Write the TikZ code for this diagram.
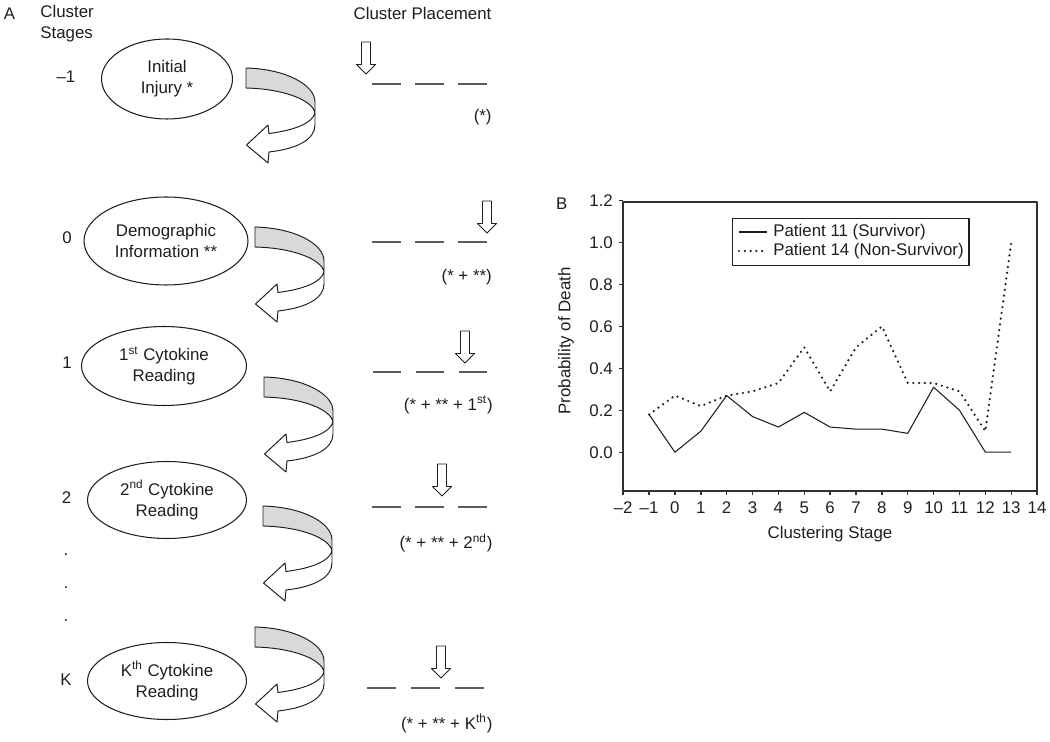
\documentclass[tikz,border=0pt]{standalone}
\usepackage{fontspec}
\setmainfont{Liberation Sans}
\usepackage{tikz}
\usetikzlibrary{shapes.geometric}

\definecolor{bandgray}{HTML}{D9D9D9}
\definecolor{slotgray}{HTML}{5C5C5C}
\definecolor{framegray}{HTML}{303030}
\definecolor{inkgray}{HTML}{1E1E1E}

\tikzset{
  stagebox/.style={draw=inkgray, ellipse, inner sep=0pt, align=center, line width=0.6pt},
  wrapband/.style={fill=bandgray, draw=inkgray, line width=0.55pt},
  wrapfront/.style={fill=white, draw=inkgray, line width=0.55pt},
  dropbox/.style={fill=white, draw=inkgray, line width=0.55pt},
  slotline/.style={draw=slotgray, line width=1.1pt},
  tickno/.style={inner sep=0pt},
  survline/.style={draw=inkgray, line width=0.6pt},
  nonsurvline/.style={draw=inkgray, line width=1.4pt, dash pattern=on 0pt off 3.3pt, line cap=round},
}

\begin{document}
\begin{tikzpicture}[x=0.02cm, y=-0.02cm, font=\fontsize{9.6}{11.8}\selectfont, line join=round, text=inkgray]
  \useasboundingbox (0,0) rectangle (1050,742);

  % panel A: headings
  \node (panA) at (9.5,14) {A};
  \node[anchor=west, align=left, inner sep=0pt] (stagehead) at (40,23.5) {Cluster\\Stages};
  \node (placehead) at (422.5,13) {Cluster Placement};

  % cluster stages
  \node[stagebox, minimum width=2.62cm, minimum height=1.6cm] (injury) at (167,79) {Initial\\Injury *};
  \node[stagebox, minimum width=3.28cm, minimum height=1.76cm] (demog) at (166,241) {Demographic\\Information **};
  \node[stagebox, minimum width=3.3cm, minimum height=1.58cm] (cyto1) at (164,366) {1\textsuperscript{st} Cytokine\\Reading};
  \node[stagebox, minimum width=3.18cm, minimum height=1.54cm] (cyto2) at (167,500) {2\textsuperscript{nd} Cytokine\\Reading};
  \node[stagebox, minimum width=3.18cm, minimum height=1.54cm] (cytoK) at (167,681) {K\textsuperscript{th} Cytokine\\Reading};

  \node (lvlm) at (66,77) {\textendash1};
  \node (lvl0) at (67,238) {0};
  \node (lvl1) at (67,363) {1};
  \node (lvl2) at (66.5,498) {2};
  \node (lvlK) at (66,680) {K};
  \node[inner sep=0pt] (dotA) at (66,555) {.};
  \node[inner sep=0pt] (dotB) at (66,588) {.};
  \node[inner sep=0pt] (dotC) at (66,621) {.};

  % wrap-around arrows
  \foreach \ax/\ay in {246/68, 255/227, 264/377, 263/506, 255/627}{
    \begin{scope}[shift={(\ax,\ay)}]
      \filldraw[wrapband] (0,0) .. controls (40,1) and (69,17) .. (69,34) -- (69,45)
        .. controls (67,33) and (40,21) .. (0,20) -- cycle;
      \filldraw[wrapfront] (69,45) .. controls (66,55) and (50,62) .. (23,65.5) -- (22,57)
        -- (0.5,77) -- (22,95) -- (23,84) .. controls (50,81) and (69,72) .. (69,57) -- cycle;
    \end{scope}
  }

  % cluster placement
  \foreach \bx/\by in {366/42, 487/201, 465/331, 442/464, 441/646}{
    \begin{scope}[shift={(\bx,\by)}]
      \filldraw[dropbox] (-4.5,0) -- (4.5,0) -- (4.5,22.5) -- (9.5,22.5) -- (0,32)
        -- (-9.5,22.5) -- (-4.5,22.5) -- cycle;
    \end{scope}
  }
  \foreach \sx/\sy/\sd in {372/84/43, 372/241.7/43, 372.5/371.7/43, 372/506.7/43, 367/688.3/44}
    \foreach \k in {0,1,2}
      \draw[slotline] (\sx+\sd*\k,\sy) -- ++(28.5,0);

  \node (summ) at (482.7,117) {(*)};
  \node (sum0) at (466.7,276.7) {(* + **)};
  \node (sum1) at (448.3,405) {(* + ** + 1\textsuperscript{st})};
  \node (sum2) at (446,542.7) {(* + ** + 2\textsuperscript{nd})};
  \node (sumK) at (446.7,723.3) {(* + ** + K\textsuperscript{th})};

  % panel B: probability plot
  \node (panB) at (561.7,204) {B};
  \node[rotate=90] (ylab) at (566,341) {Probability of Death};
  \node (xlab) at (830,534) {Clustering Stage};

  \begin{scope}[shift={(13.501cm,-9.046cm)}, x=0.5175cm, y=4.194cm]
    \draw[framegray, line width=1.1pt] (-2,-0.183) rectangle (14,1.195);
    \foreach \v in {0.0,0.2,0.4,0.6,0.8,1.0,1.2}{
      \draw[framegray, line width=0.8pt] (-2,\v) -- ++(-0.09cm,0);
      \node[tickno, anchor=east, xshift=-0.2cm] (yt\v) at (-2,\v) {\v};
    }
    \foreach \s in {-2,...,14}{
      \draw[framegray, line width=0.8pt] (\s,-0.183) -- ++(0,-0.09cm);
      \node[tickno, yshift=-0.346cm] (xt\s) at (\s,-0.183)
        {\ifnum\s<0 \textendash\number\numexpr-\s\relax\else\s\fi};
    }
    \draw[survline] plot coordinates {(-1,0.18) (0,0) (1,0.10) (2,0.27) (3,0.17) (4,0.12)
      (5,0.19) (6,0.12) (7,0.11) (8,0.11) (9,0.09) (10,0.31) (11,0.20) (12,0) (13,0)};
    \draw[nonsurvline] plot coordinates {(-1,0.18) (0,0.27) (1,0.22) (2,0.27) (3,0.29) (4,0.33)
      (5,0.50) (6,0.29) (7,0.50) (8,0.60) (9,0.33) (10,0.33) (11,0.29) (12,0.10) (13,1.0)};
  \end{scope}

  % legend
  \draw[inkgray, line width=0.6pt] (732.7,218.3) rectangle (969,265.7);
  \draw[survline] (739,232) -- (767,232);
  \draw[nonsurvline] (739,251) -- (767,251);
  \node[anchor=west, inner sep=0pt] (legsurv) at (773,232) {Patient 11 (Survivor)};
  \node[anchor=west, inner sep=0pt] (legnon) at (773,251) {Patient 14 (Non-Survivor)};
\end{tikzpicture}
\end{document}
